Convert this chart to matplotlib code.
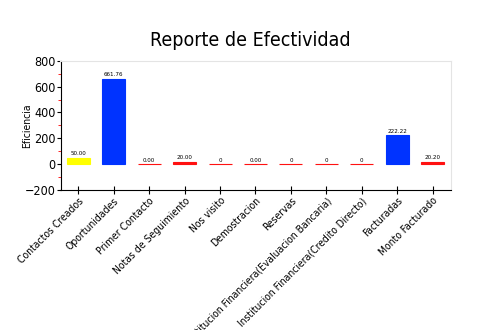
import numpy as np
import matplotlib.pyplot as plt
from matplotlib.ticker import MultipleLocator

plt.rcParams['font.family'] = ['DejaVu Sans']
plt.rcParams['font.stretch'] = 'condensed'

categorias = ['Contactos Creados', 'Oportunidades', 'Primer Contacto',
              'Notas de Seguimiento', 'Nos visito', 'Demostracion', 'Reservas',
              'Institucion Financiera(Evaluacion Bancaria)',
              'Institucion Financiera(Credito Directo)', 'Facturadas',
              'Monto Facturado']
valores = [50.00, 661.76, 0.00, 20.00, 0, 0.00, 0, 0, 0, 222.22, 20.20]
etiquetas = ['50.00', '661.76', '0.00', '20.00', '0', '0.00', '0', '0', '0',
             '222.22', '20.20']
colores = ['#ffff00', '#0033ff', '#ff1111', '#ff1111', '#ff1111', '#ff1111',
           '#ff1111', '#ff1111', '#ff1111', '#0033ff', '#ff1111']

fig = plt.figure(figsize=(5, 3.3), dpi=100)
ax = fig.add_axes([0.121, 0.424, 0.78, 0.392])

x = np.arange(len(categorias))
ax.bar(x, valores, width=0.65, color=colores, edgecolor=colores, linewidth=0.8)
for xi, v, t in zip(x, valores, etiquetas):
    ax.text(xi, v + 10, t, ha='center', va='bottom', fontsize=4.5)

ax.set_xlim(-0.5, len(categorias) - 0.5)
ax.set_ylim(-200, 800)
ax.yaxis.set_major_locator(MultipleLocator(200))
ax.yaxis.set_minor_locator(MultipleLocator(100))
ax.tick_params(axis='y', which='minor', length=2, color='red')
ax.tick_params(axis='y', which='major', length=3, labelsize=9, pad=0.5)
ax.tick_params(axis='x', direction='inout', length=6, labelsize=7.5, pad=1)
ax.set_xticks(x)
ax.set_xticklabels(categorias, rotation=45, ha='right', rotation_mode='anchor')
ax.set_ylabel('Eficiencia', fontsize=7.5)
ax.yaxis.set_label_coords(-0.074, 0.5)

for s in ['top', 'right']:
    ax.spines[s].set_color('#e4e4e4')
for s in ['left', 'bottom']:
    ax.spines[s].set_color('black')

fig.suptitle('Reporte de Efectividad', fontsize=14, y=0.905)

fig.savefig('out.png', dpi=100)
